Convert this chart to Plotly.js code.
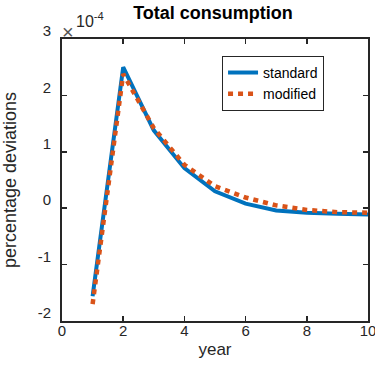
<!DOCTYPE html>
<html><head><meta charset="utf-8">
<script src="https://cdn.plot.ly/plotly-3.0.1.min.js"></script>
<style>html,body{margin:0;padding:0;background:#fff;}#c{width:375px;height:368px;}</style>
</head><body><div id="c"></div>
<script>
var years = [1,2,3,4,5,6,7,8,9,10];
var standard = [-1.56e-4, 2.50e-4, 1.38e-4, 0.71e-4, 0.30e-4, 0.08e-4, -0.04e-4, -0.08e-4, -0.10e-4, -0.11e-4];
var modified = [-1.70e-4, 2.38e-4, 1.42e-4, 0.77e-4, 0.39e-4, 0.19e-4, 0.05e-4, -0.03e-4, -0.07e-4, -0.08e-4];
var yTickVals = [-2e-4,-1e-4,0,1e-4,2e-4,3e-4];
var yTickText = ['-2','-1','0','1','2','3'];
var xTickVals = [0,2,4,6,8,10];

var axisCol = '#262626';
var traces = [
  {x: years, y: standard, mode:'lines', name:'standard', line:{color:'#0072BD', width:4}},
  {x: years, y: modified, mode:'lines', name:'modified', line:{color:'#D95319', width:4.5, dash:'5px,5px'}}
];
var layout = {
  width:375, height:368,
  margin:{l:62, r:7, t:39, b:46.5},
  paper_bgcolor:'#fff', plot_bgcolor:'#fff',
  font:{family:'Liberation Sans, Arial, sans-serif', color:axisCol, size:14},
  showlegend:true,
  title:{text:'<b>Total consumption</b>', font:{size:18, color:'#000'}, x:213/375, xanchor:'center', xref:'container', y:1-13/368, yanchor:'middle', yref:'container'},
  xaxis:{range:[0,10], tickvals:xTickVals, ticks:'inside', ticklen:5, tickwidth:1.5, tickcolor:axisCol,
    showline:true, linewidth:2, linecolor:axisCol, mirror:'ticks', showgrid:false, zeroline:false,
    tickfont:{size:15, color:axisCol}, ticklabeloverflow:'allow', ticklabelstandoff:-5,
    title:{text:'year', font:{size:17, color:axisCol}, standoff:5}},
  yaxis:{range:[-2e-4,3e-4], tickvals:yTickVals, ticktext:yTickText, ticks:'inside', ticklen:5, tickwidth:1.5, tickcolor:axisCol,
    showline:true, linewidth:2, linecolor:axisCol, mirror:'ticks', showgrid:false, zeroline:false,
    tickfont:{size:15, color:axisCol}, ticklabelshift:-8, ticklabelstandoff:6, ticklabeloverflow:'allow',
    title:{text:'percentage deviations', font:{size:18, color:axisCol}, standoff:20}},
  legend:{x:0.523, y:0.94, xanchor:'left', yanchor:'top', bordercolor:'#262626', borderwidth:1, bgcolor:'#fff',
    font:{size:14, color:'#000'}, tracegroupgap:0},
  annotations:[
    {xref:'paper', yref:'paper', x:0, y:1, xanchor:'left', yanchor:'middle', yshift:7, xshift:-2, showarrow:false,
     text:'×', font:{size:20, color:'#555'}},
    {xref:'paper', yref:'paper', x:0, y:1, xanchor:'left', yanchor:'bottom', yshift:7, xshift:12, showarrow:false,
     text:'10<sup>-4</sup>', font:{size:16, color:axisCol}}
  ]
};
Plotly.newPlot('c', traces, layout, {displayModeBar:false, staticPlot:true});
</script>
</body></html>
